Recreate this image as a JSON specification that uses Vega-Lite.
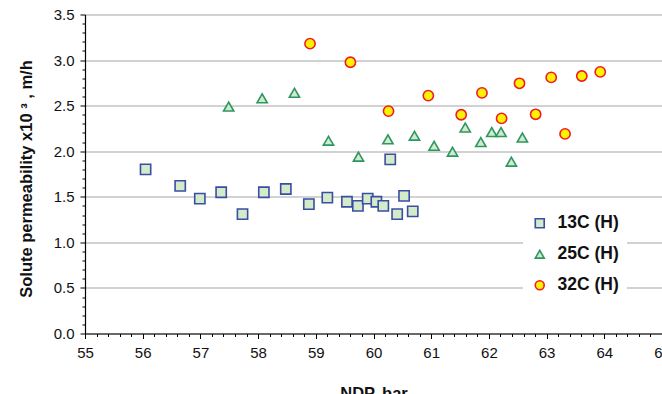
{
  "$schema": "https://vega.github.io/schema/vega-lite/v6.json",
  "width": 577,
  "height": 319,
  "autosize": {"type": "none"},
  "padding": {"left": 85, "top": 14.5, "right": 0, "bottom": 60},
  "background": "white",
  "config": {
    "view": {"stroke": null},
    "font": "Liberation Sans",
    "axis": {
      "labelFont": "Liberation Sans",
      "labelFontSize": 15,
      "labelColor": "#111111",
      "titleFont": "Liberation Sans",
      "titleFontSize": 16.5,
      "titleFontWeight": "bold",
      "titleColor": "#111111",
      "domainColor": "#000000",
      "tickColor": "#000000",
      "gridColor": "#a6a6a6",
      "gridWidth": 1.2
    }
  },
  "data": {
    "values": [
      {"ndp": 56.05, "perm": 1.80, "series": "13C (H)"},
      {"ndp": 56.65, "perm": 1.62, "series": "13C (H)"},
      {"ndp": 56.99, "perm": 1.48, "series": "13C (H)"},
      {"ndp": 57.36, "perm": 1.55, "series": "13C (H)"},
      {"ndp": 57.73, "perm": 1.31, "series": "13C (H)"},
      {"ndp": 58.10, "perm": 1.55, "series": "13C (H)"},
      {"ndp": 58.48, "perm": 1.585, "series": "13C (H)"},
      {"ndp": 58.88, "perm": 1.42, "series": "13C (H)"},
      {"ndp": 59.20, "perm": 1.49, "series": "13C (H)"},
      {"ndp": 59.54, "perm": 1.446, "series": "13C (H)"},
      {"ndp": 59.73, "perm": 1.40, "series": "13C (H)"},
      {"ndp": 59.90, "perm": 1.48, "series": "13C (H)"},
      {"ndp": 60.05, "perm": 1.446, "series": "13C (H)"},
      {"ndp": 60.17, "perm": 1.40, "series": "13C (H)"},
      {"ndp": 60.29, "perm": 1.91, "series": "13C (H)"},
      {"ndp": 60.41, "perm": 1.31, "series": "13C (H)"},
      {"ndp": 60.53, "perm": 1.51, "series": "13C (H)"},
      {"ndp": 60.68, "perm": 1.34, "series": "13C (H)"},
      {"ndp": 57.49, "perm": 2.49, "series": "25C (H)"},
      {"ndp": 58.07, "perm": 2.58, "series": "25C (H)"},
      {"ndp": 58.63, "perm": 2.64, "series": "25C (H)"},
      {"ndp": 59.22, "perm": 2.115, "series": "25C (H)"},
      {"ndp": 59.74, "perm": 1.94, "series": "25C (H)"},
      {"ndp": 60.25, "perm": 2.13, "series": "25C (H)"},
      {"ndp": 60.71, "perm": 2.17, "series": "25C (H)"},
      {"ndp": 61.05, "perm": 2.06, "series": "25C (H)"},
      {"ndp": 61.37, "perm": 1.995, "series": "25C (H)"},
      {"ndp": 61.59, "perm": 2.26, "series": "25C (H)"},
      {"ndp": 61.86, "perm": 2.10, "series": "25C (H)"},
      {"ndp": 62.05, "perm": 2.21, "series": "25C (H)"},
      {"ndp": 62.21, "perm": 2.21, "series": "25C (H)"},
      {"ndp": 62.39, "perm": 1.885, "series": "25C (H)"},
      {"ndp": 62.58, "perm": 2.15, "series": "25C (H)"},
      {"ndp": 58.90, "perm": 3.18, "series": "32C (H)"},
      {"ndp": 59.60, "perm": 2.976, "series": "32C (H)"},
      {"ndp": 60.26, "perm": 2.44, "series": "32C (H)"},
      {"ndp": 60.95, "perm": 2.61, "series": "32C (H)"},
      {"ndp": 61.52, "perm": 2.40, "series": "32C (H)"},
      {"ndp": 61.88, "perm": 2.64, "series": "32C (H)"},
      {"ndp": 62.22, "perm": 2.36, "series": "32C (H)"},
      {"ndp": 62.53, "perm": 2.745, "series": "32C (H)"},
      {"ndp": 62.81, "perm": 2.405, "series": "32C (H)"},
      {"ndp": 63.08, "perm": 2.81, "series": "32C (H)"},
      {"ndp": 63.32, "perm": 2.19, "series": "32C (H)"},
      {"ndp": 63.61, "perm": 2.825, "series": "32C (H)"},
      {"ndp": 63.93, "perm": 2.87, "series": "32C (H)"}
    ]
  },
  "resolve": {"axis": {"x": "independent", "y": "independent"}},
  "layer": [
    {
      "mark": {"type": "point", "opacity": 0},
      "encoding": {
        "x": {
          "field": "ndp", "type": "quantitative",
          "scale": {"domain": [55, 65], "nice": false, "zero": false},
          "axis": {
            "orient": "bottom", "title": null, "labels": false, "domain": false,
            "grid": false, "tickSize": 3, "tickWidth": 1,
            "values": [55.2, 55.4, 55.6, 55.8, 56.2, 56.4, 56.6, 56.8, 57.2, 57.4, 57.6, 57.8, 58.2, 58.4, 58.6, 58.8, 59.2, 59.4, 59.6, 59.8, 60.2, 60.4, 60.6, 60.8, 61.2, 61.4, 61.6, 61.8, 62.2, 62.4, 62.6, 62.8, 63.2, 63.4, 63.6, 63.8, 64.2, 64.4, 64.6, 64.8]
          }
        },
        "y": {
          "field": "perm", "type": "quantitative",
          "scale": {"domain": [0, 3.5], "nice": false, "zero": true},
          "axis": {
            "orient": "left", "title": null, "labels": false, "domain": false,
            "grid": false, "tickSize": 3, "tickWidth": 1,
            "values": [0.1, 0.2, 0.3, 0.4, 0.6, 0.7, 0.8, 0.9, 1.1, 1.2, 1.3, 1.4, 1.6, 1.7, 1.8, 1.9, 2.1, 2.2, 2.3, 2.4, 2.6, 2.7, 2.8, 2.9, 3.1, 3.2, 3.3, 3.4]
          }
        }
      }
    },
    {
      "mark": {"type": "point", "filled": true, "strokeWidth": 1.6, "opacity": 1},
      "encoding": {
        "x": {
          "field": "ndp", "type": "quantitative",
          "scale": {"domain": [55, 65], "nice": false, "zero": false},
          "axis": {
            "orient": "bottom", "title": "NDP, bar",
            "values": [55, 56, 57, 58, 59, 60, 61, 62, 63, 64, 65],
            "format": "d", "grid": false, "tickSize": 5, "tickWidth": 1,
            "domainWidth": 1.2, "labelPadding": 7, "titlePadding": 25,
            "labelFlush": false, "labelOverlap": false
          }
        },
        "y": {
          "field": "perm", "type": "quantitative",
          "scale": {"domain": [0, 3.5], "nice": false, "zero": true},
          "axis": {
            "orient": "left", "title": "Solute permeability x10 ³ , m/h",
            "values": [0, 0.5, 1, 1.5, 2, 2.5, 3, 3.5],
            "format": ".1f", "grid": true, "tickSize": 5, "tickWidth": 1,
            "domainWidth": 1.2, "labelPadding": 6, "titlePadding": 19,
            "titleY": 164, "titleAlign": "center",
            "labelFlush": false, "labelOverlap": false
          }
        },
        "shape": {
          "field": "series", "type": "nominal",
          "scale": {"domain": ["13C (H)", "25C (H)", "32C (H)"], "range": ["square", "triangle-up", "circle"]},
          "legend": {
            "title": null, "orient": "none", "legendX": 438, "legendY": 192,
            "fillColor": "white", "padding": 8, "symbolSize": 80,
            "symbolStrokeWidth": 1.6, "labelFont": "Liberation Sans",
            "labelFontSize": 17.5, "labelFontWeight": "bold", "labelColor": "#111111",
            "labelOffset": 9, "rowPadding": 12
          }
        },
        "fill": {
          "field": "series", "type": "nominal",
          "scale": {"domain": ["13C (H)", "25C (H)", "32C (H)"], "range": ["#d3ebc8", "#d0eacb", "#fff200"]},
          "legend": null
        },
        "stroke": {
          "field": "series", "type": "nominal",
          "scale": {"domain": ["13C (H)", "25C (H)", "32C (H)"], "range": ["#3a4ea3", "#2e9660", "#ee1c24"]},
          "legend": null
        },
        "size": {"value": 105}
      }
    }
  ]
}
